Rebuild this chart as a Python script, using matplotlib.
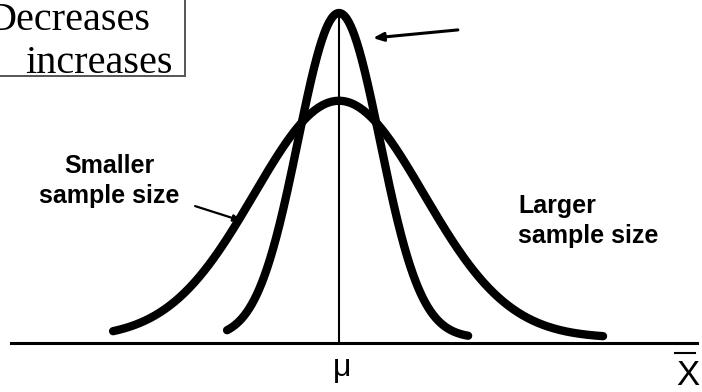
import numpy as np
import matplotlib
matplotlib.use("Agg")
import matplotlib.pyplot as plt
from matplotlib.patches import Rectangle

# ---- data ----
mu = 0.0
curve_names = ["Smaller sample size", "Larger sample size"]
curve_sigmas = [2.07, 1.0]          # spread of the sampling distribution
curve_peaks = [0.73, 1.0]           # relative peak heights
curve_left = [-5.51, -2.73]         # drawn extent of each curve
curve_right = [6.44, 3.15]
box_lines = ["Decreases", "increases"]
axis_label_mu = "μ"
axis_label_x = "X"

# ---- figure ----
fig = plt.figure(figsize=(7.02, 3.92), dpi=100)
ax = fig.add_axes([0, 0, 1, 1])
ax.set_xlim(-8.268, 8.854)
ax.set_ylim(-0.166, 1.04)
ax.axis("off")

for s, p, l, r in zip(curve_sigmas, curve_peaks, curve_left, curve_right):
    xs = np.linspace(mu + l, mu + r, 400)
    ys = p * np.exp(-((xs - mu) ** 2) / (2 * s ** 2))
    ax.plot(xs, ys, color="black", lw=6.0, solid_capstyle="round",
            solid_joinstyle="round", zorder=3)

axis_y = -0.0138
ax.plot([-8.0, 8.73], [axis_y, axis_y], color="black", lw=2.2, zorder=2)
ax.plot([mu, mu], [axis_y, max(curve_peaks)], color="black", lw=1.5, zorder=4)

# text box (clipped at top-left)
ax.add_patch(Rectangle((-9.5, 0.805), -3.756 + 9.5, 0.5, facecolor="white",
                       edgecolor="#555555", lw=1.4, zorder=1))
ax.text(-8.56, 0.948, box_lines[0], fontsize=29, family="Liberation Serif",
        va="baseline", ha="left", zorder=5)
ax.text(-7.66, 0.815, box_lines[1], fontsize=29, family="Liberation Serif",
        va="baseline", ha="left", zorder=5)

# arrows
ax.annotate("", xy=(0.829, 0.923), xytext=(2.90, 0.948),
            arrowprops=dict(arrowstyle="-|>,head_length=0.6,head_width=0.25",
                            color="black", lw=2.2, shrinkA=0, shrinkB=0))
ax.annotate("", xy=(-2.366, 0.36), xytext=(-3.51, 0.406),
            arrowprops=dict(arrowstyle="-|>,head_length=0.5,head_width=0.2",
                            color="black", lw=1.6, shrinkA=0, shrinkB=0))

# labels
lab_kw = dict(fontsize=18, family="Liberation Sans", weight="bold", va="baseline")
ax.text(-5.61, 0.508, "Smaller", ha="center", **lab_kw)
ax.text(-5.61, 0.415, "sample size", ha="center", **lab_kw)
ax.text(4.37, 0.385, "Larger", ha="left", **lab_kw)
ax.text(4.37, 0.292, "sample size", ha="left", **lab_kw)

ax.text(0.073, -0.118, axis_label_mu, fontsize=23, family="Liberation Sans",
        ha="center", va="baseline")
ax.text(8.51, -0.146, axis_label_x, fontsize=25, family="Liberation Sans",
        ha="center", va="baseline")
ax.plot([8.2, 8.68], [-0.046, -0.046], color="black", lw=1.5)

fig.savefig("out.png", dpi=100)
